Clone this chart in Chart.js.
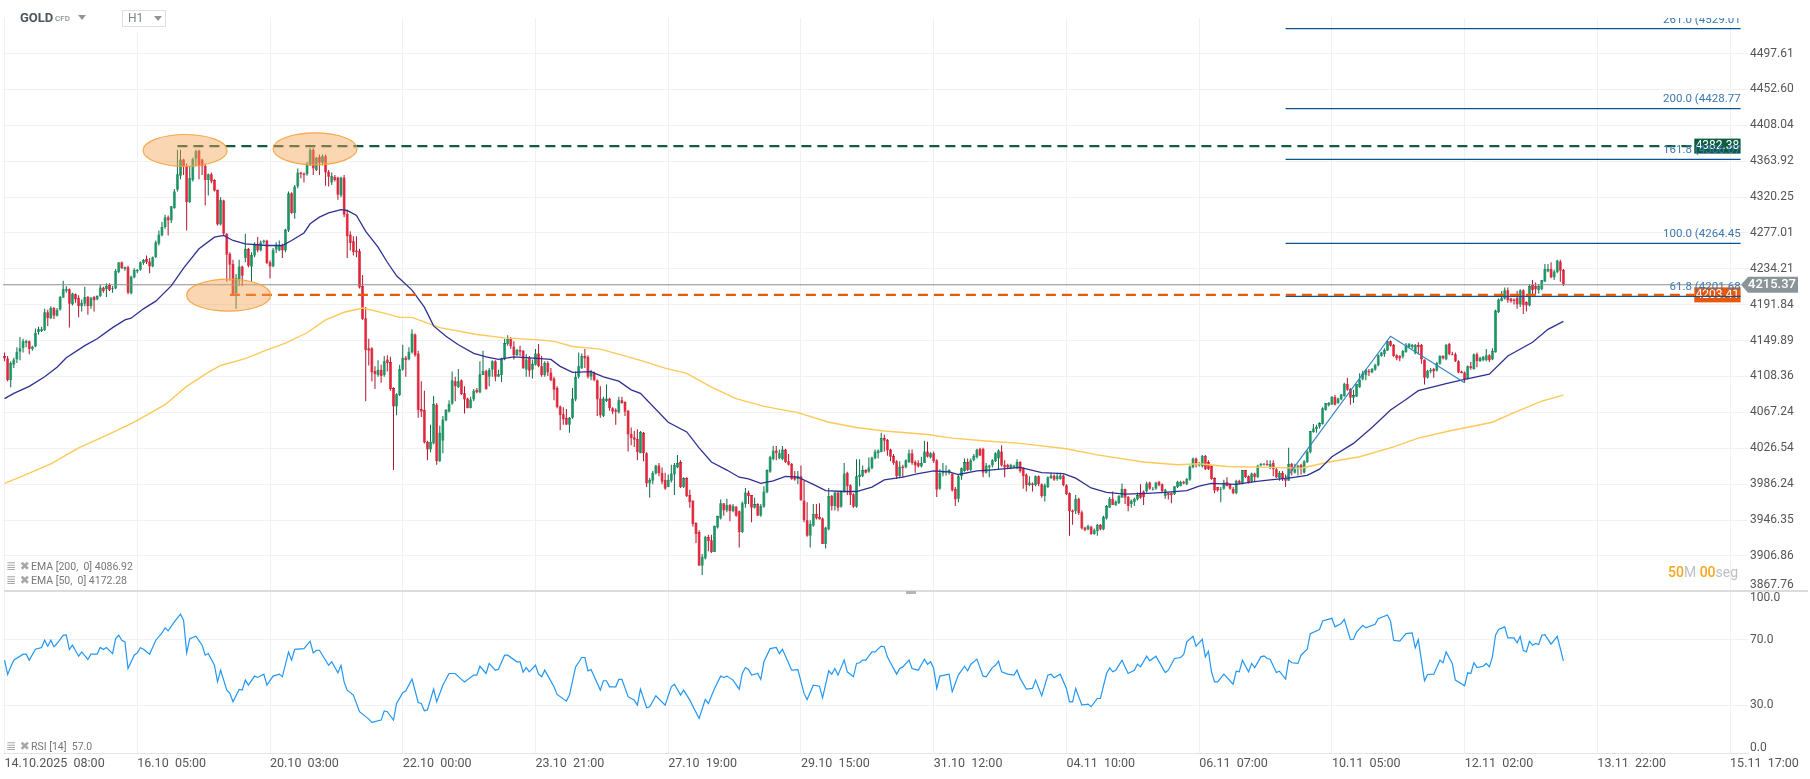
<!DOCTYPE html>
<html>
<head>
<meta charset="utf-8">
<title>GOLD H1</title>
<script src="https://cdn.jsdelivr.net/npm/chart.js@4"></script>
<style>
  html, body { margin: 0; background: #fff; width: 1810px; height: 779px; overflow: hidden; font-family: Roboto, sans-serif; }
  canvas { position: absolute; left: 0; }
  #main { top: 0; }
  #rsi { top: 591px; }
  .abs { position: absolute; white-space: pre; }
  .sep { left: 4px; top: 590px; width: 1804px; height: 2px; background: #dcdcdc; }
  .handle { left: 906px; top: 591px; width: 10px; height: 3px; background: #b5b5b5; }
  .gold { left: 20px; top: 10px; font-size: 13px; font-weight: 700; color: #4b565d; }
  .cfd { left: 55px; top: 14px; font-size: 8px; font-weight: 500; color: #8b9398; }
  .tri { width: 0; height: 0; border-left: 4px solid transparent; border-right: 4px solid transparent; border-top: 5px solid #8f9599; }
  .h1 { left: 122px; top: 10px; width: 42px; height: 15px; border: 1px solid #dfdfdf; background: #fff; }
  .h1gap { left: 130px; top: 18px; width: 14px; height: 14px; background: #fff; }
  .h1txt { left: 128px; top: 11px; font-size: 12px; color: #7b8489; }
  .legend { left: 6px; font-size: 10.5px; color: #777; }
  .legend b { display: inline-block; width: 25px; font-weight: 400; color: #a8a8a8; font-family: "DejaVu Sans"; font-size: 12px; line-height: 10px; }
  .timer { left: 1668px; top: 564px; font-size: 14px; color: #bdc1c4; }
  .timer i { font-style: normal; font-weight: 500; color: #f9a61a; }
</style>
</head>
<body>
<canvas id="main" width="1810" height="591"></canvas>
<canvas id="rsi" width="1810" height="188"></canvas>
<div class="abs sep"></div>
<div class="abs handle"></div>
<div class="abs h1gap"></div>
<div class="abs h1"></div>
<div class="abs gold">GOLD</div>
<div class="abs cfd">CFD</div>
<div class="abs tri" style="left:78px;top:15px"></div>
<div class="abs h1txt">H1</div>
<div class="abs tri" style="left:154px;top:16px"></div>
<div class="abs legend" style="top:560px"><b>≣ ✖</b>EMA [200,  0] 4086.92</div>
<div class="abs legend" style="top:574px"><b>≣ ✖</b>EMA [50,  0] 4172.28</div>
<div class="abs legend" style="top:740px"><b>≣ ✖</b>RSI [14]  57.0</div>
<div class="abs timer"><i>50</i>M <i>00</i>seg</div>
<script>
"use strict";

// Hourly candles, one row = 10 bars.
const opens = [
  4132,4129,4104,4122,4128,4137,4141,4147,4149,4140,
  4143,4160,4161,4162,4183,4176,4188,4179,4186,4200,
  4208,4210,4192,4204,4200,4190,4193,4201,4190,4201,
  4198,4202,4212,4210,4215,4210,4211,4230,4242,4234,
  4236,4205,4224,4231,4233,4241,4246,4243,4237,4248,
  4264,4274,4284,4296,4292,4307,4329,4346,4366,4358,
  4314,4341,4367,4377,4366,4358,4341,4348,4341,4329,
  4287,4316,4276,4252,4240,4205,4222,4237,4247,4258,
  4237,4250,4264,4256,4266,4268,4242,4237,4257,4256,
  4262,4256,4280,4325,4301,4333,4350,4349,4348,4359,
  4378,4353,4369,4362,4370,4351,4338,4345,4344,4322,
  4344,4300,4275,4267,4256,4255,4214,4176,4141,4141,
  4115,4110,4116,4110,4128,4125,4095,4074,4087,4116,
  4130,4128,4136,4157,4135,4071,4070,4034,4025,4032,
  4076,4012,4035,4058,4068,4077,4103,4096,4104,4089,
  4083,4072,4082,4093,4090,4110,4115,4108,4116,4126,
  4108,4110,4128,4146,4152,4143,4133,4139,4138,4116,
  4130,4116,4122,4135,4120,4110,4124,4113,4106,4095,
  4074,4065,4061,4053,4061,4082,4108,4118,4132,4131,
  4108,4112,4104,4083,4063,4080,4083,4072,4070,4067,
  4081,4079,4069,4043,4039,4037,4021,4044,4021,3987,
  3990,3998,4007,3999,3991,3983,3990,3997,4005,4011,
  3983,3993,3974,3968,3943,3933,3896,3904,3928,3924,
  3911,3938,3948,3965,3957,3963,3956,3961,3956,3933,
  3964,3977,3974,3960,3964,3951,3961,3977,4000,4014,
  4024,4015,4014,4025,4012,4009,3995,3992,3995,3968,
  3946,3929,3940,3953,3950,3948,3920,3936,3973,3962,
  3977,3961,3978,3999,3985,3975,3961,3994,3995,4002,
  4000,4004,4015,4021,4022,4038,4036,4025,4018,4012,
  3995,4006,4005,4011,4021,4011,4010,4006,4010,4023,
  4016,4021,4013,3981,3998,3999,3999,3998,3981,3970,
  3995,4001,4011,4002,4013,4016,4026,4026,3999,4005,
  4007,4012,4015,4023,4008,4008,4004,4005,4004,4011,
  4005,3997,3985,3987,3985,3995,3986,3973,3983,3993,
  3996,3992,3992,3996,3985,3976,3957,3956,3970,3955,
  3938,3936,3939,3931,3934,3941,3936,3948,3960,3970,
  3963,3965,3971,3981,3972,3964,3966,3969,3977,3978,
  3978,3988,3980,3981,3989,3986,3973,3976,3976,3975,
  3983,3984,3989,3986,3991,4005,4015,4007,4006,4018,
  4011,4007,3993,3983,3980,3981,3989,3986,3981,3976,
  3990,3987,4002,3995,3989,3998,3994,4007,4008,4009,
  4005,4010,4003,3993,3999,3993,3990,4009,3999,4003,
  4008,3999,4011,4022,4045,4048,4051,4054,4070,4075,
  4076,4085,4078,4082,4086,4100,4094,4084,4085,4096,
  4105,4110,4115,4113,4116,4121,4132,4134,4138,4149,
  4145,4133,4132,4131,4136,4142,4142,4135,4145,4145,
  4128,4107,4114,4117,4115,4123,4132,4128,4146,4134,
  4134,4126,4114,4113,4106,4120,4117,4134,4126,4127,
  4127,4133,4128,4136,4183,4196,4199,4209,4199,4198,
  4200,4192,4209,4195,4191,4215,4214,4209,4210,4219,
  4231,4234,4224,4230,4243,4233
];
const highs = [
  4136,4132,4126,4130,4142,4154,4152,4151,4150,4144,
  4164,4166,4166,4187,4186,4190,4189,4188,4202,4220,
  4214,4211,4206,4205,4203,4198,4213,4202,4201,4202,
  4203,4215,4213,4217,4217,4214,4234,4242,4243,4237,
  4238,4226,4235,4234,4243,4246,4250,4247,4249,4268,
  4280,4290,4299,4298,4309,4330,4378,4378,4367,4361,
  4358,4368,4378,4378,4367,4361,4349,4350,4342,4329,
  4320,4317,4277,4254,4245,4228,4245,4238,4276,4259,
  4254,4266,4272,4268,4269,4269,4244,4259,4266,4268,
  4264,4282,4327,4326,4335,4355,4351,4350,4363,4380,
  4380,4369,4372,4372,4372,4353,4350,4347,4345,4345,
  4347,4305,4279,4273,4273,4258,4227,4189,4152,4142,
  4120,4127,4122,4132,4133,4131,4096,4089,4122,4145,
  4132,4142,4163,4158,4138,4103,4092,4035,4053,4086,
  4078,4052,4063,4071,4081,4114,4108,4117,4105,4097,
  4084,4085,4094,4095,4126,4138,4116,4118,4127,4127,
  4116,4130,4152,4156,4154,4149,4140,4144,4139,4134,
  4132,4128,4140,4146,4132,4126,4126,4118,4108,4097,
  4075,4073,4071,4062,4095,4114,4136,4135,4140,4133,
  4116,4114,4105,4097,4085,4099,4084,4073,4072,4085,
  4085,4080,4070,4050,4046,4048,4046,4045,4022,3993,
  4001,4008,4010,4005,3999,3997,4008,4010,4019,4013,
  3994,3994,3980,3968,3944,3935,3909,3929,3930,3930,
  3940,3951,3969,3965,3970,3964,3964,3962,3957,3967,
  3982,3979,3974,3971,3965,3964,3984,4003,4018,4029,
  4029,4025,4029,4026,4020,4010,4001,4001,4007,3990,
  3966,3946,3964,3964,3965,3949,3939,3982,3974,3978,
  3978,3979,4010,4000,3986,3976,4014,4014,4007,4003,
  4016,4017,4025,4025,4044,4042,4037,4026,4020,4013,
  4012,4008,4014,4025,4025,4013,4013,4017,4035,4034,
  4022,4023,4014,4003,4010,4007,4003,3998,3983,3997,
  4005,4015,4015,4015,4020,4026,4027,4027,4010,4008,
  4014,4022,4025,4030,4013,4009,4009,4008,4014,4012,
  4005,3998,3995,3988,3996,3996,3987,3987,3995,3999,
  3997,3999,3999,3997,3986,3977,3958,3974,3971,3957,
  3939,3941,3940,3937,3942,3942,3951,3963,3972,3978,
  3968,3974,3987,3981,3973,3969,3971,3977,3986,3979,
  3989,3989,3983,3989,3990,3987,3981,3977,3977,3984,
  3990,3990,3990,3993,4007,4016,4016,4011,4019,4019,
  4013,4007,3994,3983,3983,3991,3994,3987,3983,3991,
  3991,4002,4002,3996,3999,3999,4008,4010,4010,4013,
  4013,4013,4005,4001,4001,3997,4027,4010,4009,4008,
  4009,4013,4024,4046,4054,4053,4056,4073,4078,4079,
  4086,4087,4084,4088,4101,4107,4095,4093,4100,4112,
  4115,4117,4117,4118,4123,4134,4137,4141,4150,4150,
  4146,4134,4133,4139,4147,4147,4146,4146,4148,4146,
  4128,4116,4118,4118,4125,4133,4133,4146,4147,4137,
  4136,4127,4115,4114,4121,4125,4135,4136,4131,4132,
  4140,4134,4141,4186,4199,4208,4212,4212,4200,4199,
  4208,4210,4210,4196,4216,4221,4218,4216,4221,4240,
  4240,4242,4233,4245,4245,4234
];
const lows = [
  4126,4103,4096,4118,4124,4127,4136,4142,4134,4138,
  4142,4157,4160,4161,4167,4175,4175,4178,4185,4200,
  4206,4165,4191,4194,4177,4184,4190,4180,4187,4184,
  4197,4201,4206,4201,4208,4206,4210,4229,4234,4232,
  4204,4204,4223,4229,4232,4239,4240,4229,4236,4247,
  4262,4273,4282,4274,4289,4306,4327,4342,4347,4280,
  4313,4339,4358,4342,4347,4310,4322,4337,4327,4286,
  4286,4274,4219,4220,4202,4187,4214,4214,4242,4236,
  4219,4248,4254,4255,4264,4240,4223,4236,4253,4255,
  4247,4254,4278,4300,4294,4331,4343,4338,4346,4358,
  4347,4352,4347,4359,4334,4333,4335,4339,4317,4320,
  4296,4247,4256,4250,4248,4211,4174,4080,4121,4103,
  4094,4108,4101,4108,4114,4092,4002,4064,4086,4115,
  4108,4127,4135,4131,4061,4062,4032,4013,4022,4031,
  4008,4011,4021,4057,4067,4076,4080,4095,4087,4066,
  4072,4072,4080,4089,4089,4110,4093,4097,4108,4103,
  4108,4102,4127,4144,4140,4128,4132,4132,4117,4108,
  4108,4106,4121,4119,4108,4108,4109,4103,4081,4072,
  4047,4053,4053,4044,4060,4080,4106,4117,4118,4106,
  4104,4103,4063,4061,4062,4079,4069,4065,4053,4066,
  4077,4063,4023,4030,4028,4013,4021,4012,3983,3971,
  3986,3997,3995,3986,3980,3983,3988,3974,4004,3982,
  3982,3972,3960,3939,3921,3896,3886,3903,3912,3910,
  3911,3937,3947,3951,3955,3945,3955,3950,3916,3932,
  3960,3964,3944,3959,3951,3950,3960,3976,3999,4013,
  4013,4014,4013,4010,4007,3991,3990,3986,3968,3944,
  3928,3916,3939,3947,3947,3920,3915,3935,3957,3957,
  3956,3960,3977,3974,3963,3960,3960,3984,3994,3998,
  3999,4003,4014,4015,4022,4023,4018,4012,4008,3992,
  3994,3994,4004,4010,4008,3999,4005,4005,4010,4016,
  4015,4010,3972,3980,3995,3996,3997,3978,3962,3966,
  3991,4000,4001,4001,4012,4015,4018,3994,3998,3994,
  4005,4011,4002,4006,3994,4004,4003,4004,4003,3999,
  3981,3978,3984,3978,3984,3984,3971,3967,3982,3992,
  3990,3990,3991,3984,3974,3929,3941,3953,3952,3936,
  3934,3935,3930,3930,3929,3935,3935,3947,3960,3963,
  3962,3964,3971,3964,3956,3960,3962,3968,3970,3963,
  3977,3980,3979,3980,3984,3977,3970,3969,3965,3974,
  3982,3984,3986,3985,3990,4004,4005,4006,4005,4002,
  4002,3991,3976,3978,3966,3980,3984,3980,3975,3975,
  3986,3986,3993,3987,3988,3989,3993,4006,4007,4007,
  4003,3995,3993,3990,3990,3983,3990,3996,3998,3996,
  3997,3998,4010,4021,4044,4044,4049,4053,4069,4074,
  4076,4075,4077,4081,4085,4092,4076,4078,4085,4095,
  4104,4104,4109,4112,4115,4120,4131,4131,4138,4143,
  4131,4127,4126,4129,4136,4141,4140,4134,4134,4123,
  4099,4106,4112,4107,4114,4122,4128,4127,4133,4133,
  4125,4112,4112,4101,4105,4116,4116,4119,4125,4126,
  4126,4125,4127,4136,4182,4196,4198,4194,4194,4192,
  4187,4189,4181,4184,4190,4204,4204,4205,4209,4219,
  4230,4223,4221,4229,4219,4214
];
const closes = [
  4129,4104,4124,4128,4137,4141,4149,4149,4140,4143,
  4159,4163,4163,4183,4176,4188,4179,4186,4201,4210,
  4210,4193,4205,4198,4190,4194,4201,4190,4200,4197,
  4202,4212,4208,4214,4209,4211,4232,4242,4235,4236,
  4206,4225,4233,4233,4242,4245,4242,4237,4248,4266,
  4275,4284,4296,4292,4309,4327,4348,4366,4358,4314,
  4343,4367,4376,4358,4358,4341,4348,4339,4328,4287,
  4317,4276,4251,4239,4203,4223,4237,4226,4258,4238,
  4251,4264,4256,4266,4268,4241,4237,4257,4262,4262,
  4256,4281,4325,4301,4333,4350,4348,4347,4361,4378,
  4355,4368,4362,4370,4350,4345,4346,4341,4323,4344,
  4299,4273,4265,4254,4254,4212,4175,4139,4138,4113,
  4111,4116,4109,4126,4124,4094,4074,4088,4117,4130,
  4127,4137,4158,4133,4070,4068,4033,4025,4034,4077,
  4012,4044,4059,4070,4077,4104,4097,4103,4088,4082,
  4072,4082,4092,4090,4111,4115,4094,4116,4126,4108,
  4111,4129,4147,4152,4143,4133,4139,4137,4118,4128,
  4115,4123,4135,4120,4110,4124,4113,4104,4093,4073,
  4064,4059,4053,4061,4083,4108,4120,4132,4129,4108,
  4113,4104,4082,4064,4083,4083,4072,4068,4068,4081,
  4078,4068,4042,4038,4036,4022,4045,4021,3987,3991,
  3999,4007,3998,3989,3981,3991,3998,4008,4010,3983,
  3993,3973,3966,3942,3931,3896,3906,3928,3923,3911,
  3940,3951,3965,3957,3963,3956,3962,3951,3933,3965,
  3977,3973,3960,3964,3951,3962,3978,4002,4017,4024,
  4021,4021,4025,4011,4008,3992,3991,3995,3968,3946,
  3929,3942,3953,3948,3947,3920,3938,3973,3962,3977,
  3960,3978,3998,3984,3974,3961,3995,3997,4002,3999,
  4005,4016,4023,4024,4038,4035,4024,4017,4010,3995,
  4006,4004,4013,4021,4010,4007,4006,4010,4023,4017,
  4021,4012,3980,3999,4001,4001,4002,3979,3969,3995,
  4004,4011,4002,4013,4018,4025,4018,3999,4007,4007,
  4013,4021,4024,4007,4005,4005,4008,4007,4011,4001,
  3995,3985,3988,3985,3995,3986,3973,3985,3994,3996,
  3991,3995,3996,3985,3975,3956,3955,3970,3954,3937,
  3935,3940,3931,3935,3941,3936,3950,3962,3970,3963,
  3967,3973,3981,3971,3962,3968,3970,3974,3971,3972,
  3987,3981,3981,3988,3985,3978,3980,3974,3974,3984,
  3989,3989,3987,3992,4006,4015,4008,4010,4018,4003,
  4003,3992,3979,3979,3981,3988,3984,3981,3976,3990,
  3987,4002,3994,3988,3998,3994,4007,4009,4009,4007,
  4009,4003,3994,3999,3992,3990,4009,4001,4003,4007,
  4004,4012,4023,4046,4049,4051,4055,4072,4078,4078,
  4085,4076,4083,4088,4100,4093,4084,4087,4100,4105,
  4112,4116,4113,4117,4122,4133,4136,4139,4149,4144,
  4132,4129,4129,4138,4145,4146,4145,4145,4142,4128,
  4107,4115,4116,4114,4124,4132,4129,4145,4134,4133,
  4126,4113,4112,4105,4120,4118,4134,4126,4130,4131,
  4133,4127,4138,4185,4198,4200,4209,4197,4196,4196,
  4192,4209,4191,4191,4214,4209,4210,4214,4221,4234,
  4234,4224,4231,4244,4232,4215.37
];

const ema50Idx = [0,3,8,13,17,20,26,30,35,39,41,45,49,54,58,63,68,71,74,78,85,90,93,97,99,102,105,109,111,114,117,121,124,127,132,136,139,143,147,152,156,160,165,169,177,180,184,190,194,199,203,206,215,221,225,229,234,238,241,245,249,253,257,262,266,272,276,281,285,291,296,301,306,309,315,319,329,336,343,347,352,357,363,370,376,383,387,391,399,405,410,416,422,426,430,437,443,449,454,458,467,473,481,487,495,500,505];
const ema50Val = [4083,4089,4097,4108,4119,4130,4144,4152,4165,4174,4176,4187,4196,4214,4235,4258,4272,4274,4268,4264,4262,4262,4268,4277,4288,4296,4301,4305,4304,4298,4279,4260,4242,4226,4209,4189,4167,4155,4145,4135,4131,4128,4131,4130,4128,4120,4113,4114,4108,4103,4093,4089,4056,4045,4027,4011,4002,3994,3992,3987,3990,3995,3994,3986,3979,3978,3978,3983,3991,3994,3998,4001,4000,3997,4001,4002,4005,3999,3998,3993,3982,3977,3975,3976,3977,3979,3984,3987,3986,3989,3991,3993,3996,4003,4017,4032,4050,4070,4082,4092,4100,4105,4111,4132,4148,4163,4172.28];

const ema200Idx = [0,5,15,24,33,42,52,59,66,70,78,85,91,98,104,110,116,123,128,132,141,153,162,172,178,184,193,200,206,214,221,229,237,246,257,267,276,285,299,307,317,329,344,354,369,380,387,396,410,420,429,439,450,458,468,482,489,498,505];
const ema200Val = [3987,3994,4009,4027,4041,4056,4076,4097,4113,4121,4129,4139,4147,4159,4174,4183,4188,4182,4177,4177,4165,4157,4153,4151,4149,4143,4140,4133,4127,4118,4112,4096,4083,4074,4067,4056,4050,4046,4042,4038,4035,4032,4026,4019,4011,4008,4009,4006,4005,4004,4011,4017,4028,4038,4046,4056,4067,4080,4086.92];

const rsiIdx = [0,1,2,3,6,7,8,10,12,13,14,15,16,17,19,20,21,22,24,25,27,28,30,31,32,33,35,36,37,38,39,40,42,43,44,45,47,49,51,52,53,55,57,58,59,60,62,64,65,66,68,69,70,72,73,74,76,77,78,79,81,82,84,85,87,89,90,92,93,94,97,99,100,101,102,105,106,108,109,110,111,113,115,118,119,122,123,124,126,127,129,130,132,134,135,136,137,139,140,142,144,146,148,149,152,153,154,156,157,159,160,162,163,166,167,168,169,170,172,173,174,175,178,179,182,183,185,187,188,189,190,193,194,195,196,198,199,200,202,204,205,206,208,209,211,214,216,217,219,220,222,225,227,228,230,232,233,234,236,238,239,240,241,242,244,245,246,248,250,251,252,255,257,259,260,262,264,265,267,268,269,270,272,273,275,276,277,278,279,281,282,284,285,286,287,289,290,291,293,294,296,298,299,300,301,302,303,306,307,309,311,312,313,315,317,318,320,321,322,323,325,327,328,329,331,333,334,336,338,339,340,342,344,345,346,347,349,351,352,354,355,357,358,359,360,362,364,366,367,368,370,371,373,376,377,379,381,382,383,385,386,388,389,390,391,392,393,395,398,399,400,401,403,404,405,407,408,409,410,412,413,415,416,417,419,420,422,423,426,427,430,431,433,434,436,437,438,440,441,444,445,448,449,450,452,454,456,457,458,460,461,463,465,466,467,469,470,473,474,475,476,477,479,480,481,482,483,484,486,487,489,490,491,492,493,494,495,496,497,498,499,501,503,505];
const rsiVal = [57.5,48.8,53.4,57.5,61.1,61.1,57.5,64.1,65.2,69.6,66,69.6,65.6,67.6,72.6,72.8,63.9,66.6,59.9,62.5,57.9,61.1,61.1,65.2,63.9,65.2,61.5,70.6,72.6,69.6,68.6,52.4,60.5,61.9,65,64.1,61.1,69.6,74,77.1,75.3,80.7,85.4,81.7,61.9,70.6,72,66.6,60.5,61.5,54.4,44.3,51.4,39.3,37.3,32.2,39.7,39.3,45.4,42.3,47.8,47,49,42.3,47.8,49,47.4,62.5,57.5,64.1,64.5,69,61.9,63.5,63.5,54.4,56.5,49.8,54.4,44.3,39.3,36.3,26.2,21.7,19.7,21.1,26.6,26.2,21.1,31.2,37.7,38.9,46,31.8,31.2,26.8,27.2,39.9,32.2,42.3,49.4,49.4,45.8,44.3,48.4,48.4,53.8,49.4,55.5,51.4,52,60.5,60.5,56.5,56.5,50.2,53,50.4,54.4,49,47.4,51.4,41.3,36.7,32.6,36.3,53.4,59.1,59.1,51,51.8,39.3,45,45,41.3,41.3,45.8,45.8,35.3,33.2,30.2,39.9,28.6,29.2,35.9,30.2,41.3,42.9,36.3,39.3,33.2,22.1,33.6,31.2,40.3,47.8,47,47.8,45.4,39.9,49.4,53,51.8,48.4,49.4,45.8,56.5,64.5,65.2,61.5,64.1,51.4,51.8,37.3,33.6,42.3,41.7,34.6,51,49,52.4,48.4,57.5,50.4,47.4,55.5,55.9,57.5,57.5,62.5,62.5,66,65.6,59.5,55.9,49,52.4,53.4,57.5,52.4,51.4,58.1,55,56.5,52.4,40.3,47.8,49,38.3,48.4,53.8,51,54.9,58.1,47.8,47.4,53,54.4,56.9,50.4,49,48.4,51.4,46.4,39.9,40.3,45.4,35.9,48.4,49,46.8,49,40.3,32.2,32.2,40.3,30.2,30.8,29.2,34.2,34.2,49.4,52.8,50.4,51.4,57.5,49.4,51.4,55,53.4,59.9,57.1,59.9,50,51.4,58.5,59.1,60.9,68.6,72,66,70.2,59.5,62.9,50.4,44.3,44.3,49,42.9,50.8,50.4,57.5,50.4,55.5,53,59.5,60.1,58.5,58.1,50,50.8,46,57.5,55.9,55.5,60.5,64.1,73.6,76.1,81.3,82.9,77.7,79.7,82.3,70,70.2,74.6,78.7,77.1,79.3,82.7,84.9,81.1,69.6,69,73.6,74,65,70,45,48.8,49,57.5,55.9,62.5,55.5,45.4,41.9,49.8,49.4,55.9,53,53.8,55.5,53.4,59.5,72.6,76.1,77.7,71,71,68,72,63.5,62.5,69,66.6,67.6,67,72.6,73,67.2,72,57];

// Bar index of each time label, bars are hourly without the daily break
const xTickIdx = [0,43,86,129,172,215,258,301,344,387,430,473,516,559];
const xTickLabels = ["14.10.2025  08:00","16.10  05:00","20.10  03:00","22.10  00:00","23.10  21:00","27.10  19:00","29.10  15:00","31.10  12:00","04.11  10:00","06.11  07:00","10.11  05:00","12.11  02:00","13.11  22:00","15.11  17:00"];
const yTicks = [4497.61,4452.60,4408.04,4363.92,4320.25,4277.01,4234.21,4191.84,4149.89,4108.36,4067.24,4026.54,3986.24,3946.35,3906.86,3867.76];
const rsiTicks = [70,30];

const fibLabels = ["261.0 (4529.01","200.0 (4428.77","161.8 (4366.07","100.0 (4264.45","61.8 (4201.68"];
const fibValues = [4529.01,4428.77,4366.07,4264.45,4201.68];
const fibStartIdx = 415;
const zigzagIdx = [415,449,473];
const zigzagVal = [3992,4155,4101];
const resistance = 4382.38;
const resistanceStartIdx = 56;
const support = 4203.41;
const supportStartIdx = 73;
const lastPrice = 4215.37;
const circleIdx = [58.5,100.6,72.6];
const circleVal = [4377,4379,4203];

const GREEN = "#119a62", GREEN_DARK = "#0b6b47", RED = "#ee2036", RED_DARK = "#b3122a";
const X_MIN = -0.5, X_MAX = 564.8, TAG_LEFT_IDX = 547.4, LINE_END_IDX = 562.4;
const GRID = "#f1f1f1";

const up = (i) => closes[i] >= opens[i];
const pts = (xs, ys) => xs.map((x, i) => ({ x, y: ys[i] }));

function xScale(showLabels) {
  return {
    type: "linear", min: X_MIN, max: X_MAX, offset: false,
    grid: { color: GRID, drawTicks: false, offset: false },
    border: { display: showLabels, color: "#e4e4e4" },
    afterBuildTicks: (s) => { s.ticks = xTickIdx.map((v) => ({ value: v })); },
    afterFit: (s) => { s.paddingLeft = 0; s.paddingRight = 0; s.height = showLabels ? 26 : 0; },
    ticks: {
      display: showLabels, align: "start", maxRotation: 0, autoSkip: false, padding: 3,
      color: "#555", font: { family: "Roboto", size: 12.5 },
      callback: (v) => xTickLabels[xTickIdx.indexOf(v)],
    },
  };
}

function yAfterFit(s) { s.paddingTop = 0; s.paddingBottom = 0; s.width = 62; }

function levelLine(xs, value, color, extra) {
  return Object.assign({
    type: "line", data: xs.map((x) => ({ x, y: value })), borderColor: color, borderWidth: 1.2,
    pointRadius: 0, order: 1,
  }, extra);
}

function tagBox(ctx, x0, x1, yc, color, text) {
  ctx.fillStyle = color;
  ctx.fillRect(x0, yc - 7.5, x1 - x0, 15);
  ctx.fillStyle = "#fff";
  ctx.font = "12px Roboto";
  ctx.textAlign = "center";
  ctx.textBaseline = "middle";
  ctx.fillText(text, (x0 + x1) / 2, yc);
}

const overlay = {
  id: "overlay",
  beforeDatasetsDraw(chart) {
    const { ctx, scales: { x, y } } = chart;
    const x0 = x.getPixelForValue(TAG_LEFT_IDX), x1 = x.getPixelForValue(LINE_END_IDX);
    ctx.save();
    tagBox(ctx, x0, x1, y.getPixelForValue(resistance), "#0b5c40", resistance.toFixed(2));
    tagBox(ctx, x0, x1, y.getPixelForValue(support), "#e8590c", support.toFixed(2));
    ctx.restore();
  },
  afterDatasetsDraw(chart) {
    const { ctx, chartArea: a, scales: { x, y } } = chart;
    ctx.save();
    ctx.beginPath();
    ctx.rect(0, a.top, chart.width, a.bottom - a.top);
    ctx.clip();
    // Highlight circles over the double top and the swing low
    circleIdx.forEach((idx, i) => {
      ctx.beginPath();
      ctx.ellipse(x.getPixelForValue(idx), y.getPixelForValue(circleVal[i]), 42, 16, 0, 0, Math.PI * 2);
      ctx.fillStyle = "rgba(247,163,87,0.45)";
      ctx.fill();
      ctx.strokeStyle = "rgba(247,160,60,0.9)";
      ctx.lineWidth = 1.2;
      ctx.stroke();
    });
    ctx.fillStyle = "#3c78b0";
    ctx.font = "11.5px Roboto";
    ctx.textAlign = "right";
    ctx.textBaseline = "middle";
    fibValues.forEach((v, i) => ctx.fillText(fibLabels[i], x.getPixelForValue(LINE_END_IDX), y.getPixelForValue(v) - 9));
    ctx.restore();
  },
  afterDraw(chart) {
    const { ctx, chartArea: a, scales: { y } } = chart;
    const yc = y.getPixelForValue(lastPrice);
    ctx.save();
    ctx.fillStyle = "#8b9599";
    ctx.beginPath();
    ctx.moveTo(a.right - 7, yc);
    ctx.lineTo(a.right, yc - 8);
    ctx.lineTo(1798, yc - 8);
    ctx.lineTo(1798, yc + 8);
    ctx.lineTo(a.right, yc + 8);
    ctx.closePath();
    ctx.fill();
    ctx.fillStyle = "#fff";
    ctx.font = "500 13px Roboto";
    ctx.textAlign = "center";
    ctx.textBaseline = "middle";
    ctx.fillText(lastPrice.toFixed(2), 1772, yc);
    // lowest tick sits just above the panel edge
    ctx.fillStyle = "#555";
    ctx.font = "12px Roboto";
    ctx.textAlign = "left";
    ctx.fillText(yTicks[yTicks.length - 1].toFixed(2), a.right + 2, a.bottom - 6);
    ctx.restore();
  },
};

new Chart(document.getElementById("main"), {
  type: "bar",
  plugins: [overlay],
  data: {
    datasets: [
      { data: pts(opens.map((_, i) => i), lows.map((l, i) => [l, highs[i]])), barThickness: 1, grouped: false, inflateAmount: 0,
        backgroundColor: opens.map((_, i) => up(i) ? GREEN_DARK : RED_DARK), order: 6 },
      { data: pts(opens.map((_, i) => i), opens.map((o, i) => [o, closes[i]])), barThickness: 3, grouped: false, inflateAmount: 0, minBarLength: 1,
        backgroundColor: opens.map((_, i) => up(i) ? GREEN : RED), borderWidth: 0.6,
        borderColor: opens.map((_, i) => up(i) ? GREEN_DARK : RED_DARK), order: 5 },
      { type: "line", data: pts(ema200Idx, ema200Val), borderColor: "#fdc957", borderWidth: 1.4, pointRadius: 0, order: 3 },
      { type: "line", data: pts(ema50Idx, ema50Val), borderColor: "#2f3192", borderWidth: 1.3, pointRadius: 0, order: 2 },
      { type: "line", data: pts(zigzagIdx, zigzagVal), borderColor: "#3585c4", borderWidth: 1.2, pointRadius: 0, order: 1 },
      levelLine([X_MIN, LINE_END_IDX], lastPrice, "#8a8f91", { borderWidth: 1.2, order: 4 }),
      levelLine([resistanceStartIdx, TAG_LEFT_IDX], resistance, "#0f5c40", { borderWidth: 2.2, borderDash: [10, 6] }),
      levelLine([supportStartIdx, TAG_LEFT_IDX], support, "#e8590c", { borderWidth: 2.2, borderDash: [10, 6] }),
      ...fibValues.map((v) => levelLine([fibStartIdx, LINE_END_IDX], v, "#0b5394")),
    ],
  },
  options: {
    responsive: false, animation: false, events: [],
    layout: { padding: { top: 18, left: 3, right: 0, bottom: 0 } },
    plugins: { legend: { display: false }, tooltip: { enabled: false } },
    scales: {
      x: xScale(false),
      y: {
        type: "logarithmic", position: "right", min: 3868.6, max: 4542.6,
        grid: { color: GRID, drawTicks: false }, border: { display: false },
        afterBuildTicks: (s) => { s.ticks = yTicks.map((v) => ({ value: v })); },
        afterFit: yAfterFit,
        ticks: {
          padding: 2, color: "#555", font: { family: "Roboto", size: 12 }, autoSkip: false,
          callback: (v) => v === yTicks[yTicks.length - 1] ? "" : Number(v).toFixed(2),
        },
      },
    },
  },
});

const rsiExtras = {
  id: "rsiExtras",
  afterDraw(chart) {
    const { ctx, chartArea: a } = chart;
    ctx.save();
    ctx.fillStyle = "#555";
    ctx.font = "12px Roboto";
    ctx.textAlign = "left";
    ctx.textBaseline = "middle";
    ctx.fillText("100.0", a.right + 2, a.top + 7);
    ctx.fillText("0.0", a.right + 2, a.bottom - 5);
    ctx.restore();
  },
};

new Chart(document.getElementById("rsi"), {
  type: "line",
  plugins: [rsiExtras],
  data: {
    datasets: [{ data: pts(rsiIdx, rsiVal), borderColor: "#2196f3", borderWidth: 1.2, pointRadius: 0 }],
  },
  options: {
    responsive: false, animation: false, events: [],
    layout: { padding: { top: 0, left: 3, right: 0, bottom: 0 } },
    plugins: { legend: { display: false }, tooltip: { enabled: false } },
    scales: {
      x: xScale(true),
      y: {
        position: "right", min: 1.1, max: 99.5,
        grid: { color: GRID, drawTicks: false }, border: { display: false },
        afterBuildTicks: (s) => { s.ticks = rsiTicks.map((v) => ({ value: v })); },
        afterFit: yAfterFit,
        ticks: { padding: 2, color: "#555", font: { family: "Roboto", size: 12 }, callback: (v) => Number(v).toFixed(1) },
      },
    },
  },
});
</script>
</body>
</html>
